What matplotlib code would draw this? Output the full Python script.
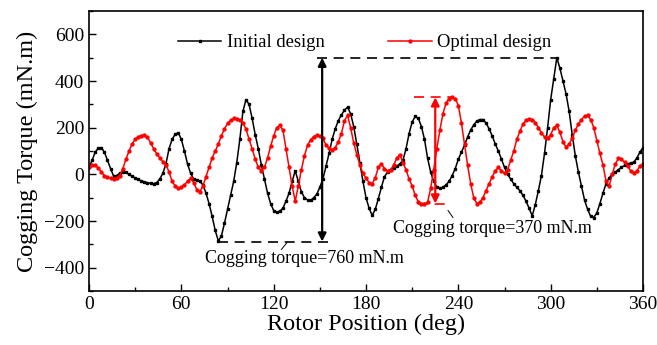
import numpy as np
import matplotlib
matplotlib.use("Agg")
import matplotlib.pyplot as plt

plt.rcParams['font.family'] = ['Liberation Serif', 'DejaVu Serif']

# Rotor position (deg), sampled every 2 degrees
position = np.arange(0, 362, 2)

initial_design = [
    30, 60, 95, 112, 115, 95, 60, 25, -8, -5,
    5, 10, 8, 0, -8, -15, -22, -28, -32, -36,
    -38, -40, -35, -20, 5, 45, 110, 150, 172, 178,
    150, 100, 45, 5, -20, -26, -30, -45, -80, -125,
    -180, -240, -285, -265, -210, -150, -90, -30, 50, 150,
    270, 320, 300, 240, 170, 110, 40, -20, -80, -125,
    -155, -163, -158, -145, -115, -80, -30, 15, -30, -75,
    -100, -110, -112, -100, -85, -55, -20, 35, 90, 150,
    195, 230, 255, 275, 288, 260, 205, 130, 50, -30,
    -100, -145, -176, -150, -105, -55, -10, 10, 20, 28,
    35, 45, 60, 110, 175, 225, 248, 240, 205, 150,
    70, 10, -30, -55, -60, -55, -45, -30, -5, 25,
    65, 95, 125, 160, 190, 212, 228, 235, 235, 220,
    195, 165, 130, 100, 65, 30, 0, -20, -40, -55,
    -70, -90, -115, -145, -178, -130, -70, -5, 90, 200,
    320, 410, 500, 455, 400, 345, 270, 170, 80, 10,
    -50, -110, -150, -180, -185, -165, -125, -80, -40, -15,
    0, 10, 20, 30, 38, 45, 48, 52, 70, 95,
    115,
]

optimal_design = [
    30, 38, 38, 28, 10, -5, -12, -16, -18, -15,
    -5, 25, 65, 100, 130, 150, 160, 166, 168, 160,
    135, 110, 88, 70, 55, 42, 10, -30, -50, -60,
    -55, -45, -30, -17, -35, -65, -75, -50, -10, 30,
    70, 100, 130, 165, 195, 218, 232, 240, 238, 232,
    220, 195, 150, 110, 65, 30, 15, 30, 70, 120,
    165, 200, 210, 190, 110, 30, -50, -115, -50, 20,
    80, 125, 148, 162, 168, 165, 155, 125, 112, 105,
    115, 140, 175, 230, 253, 200, 135, 85, 40, 5,
    -17, -35, -40, -15, 30, 45, 25, 15, 20, 40,
    70, 85, 50, 20, -20, -50, -90, -118, -125, -125,
    -120, -60, 20, 110, 190, 260, 305, 325, 330, 325,
    295, 220, 130, 40, -40, -100, -125, -120, -100, -70,
    -40, -10, 15, 30, 15, 5, 20, 60, 100, 150,
    185, 215, 232, 238, 235, 222, 200, 178, 160, 155,
    170, 200, 210, 180, 140, 116, 130, 155, 190, 215,
    235, 250, 253, 235, 200, 145, 90, 40, -30, -50,
    0, 45, 68, 65, 52, 35, 15, 5, 15, 35,
    45,
]

x_ticks = [0, 60, 120, 180, 240, 300, 360]
y_ticks = [-400, -200, 0, 200, 400, 600]

fig = plt.figure(figsize=(6.57, 3.45), dpi=100)
ax = fig.add_axes([0.1355, 0.1565, 0.8432, 0.8115])

ax.plot(position, initial_design, color='black', lw=1.1, marker='s', ms=1.9,
        label='Initial design')
ax.plot(position, optimal_design, color='red', lw=1.1, marker='o', ms=2.1,
        label='Optimal design')

# Peak-to-peak annotations: initial design
ax.plot([148, 304], [500, 500], color='black', lw=1.2, ls=(0, (6, 4)))
ax.plot([84, 157], [-288, -288], color='black', lw=1.2, ls=(0, (6, 4)))
ax.annotate('', xy=(151.5, 500), xytext=(151.5, -288),
            arrowprops=dict(arrowstyle='<|-|>', color='black', lw=1.6,
                            mutation_scale=12, shrinkA=0, shrinkB=0))
ax.plot([125, 128.5], [-322, -294], color='black', lw=0.7)
ax.text(75.4, -361, 'Cogging torque=760 mN.m', fontsize=13, va='center', ha='left')

# Peak-to-peak annotations: optimal design
ax.plot([211, 237], [330, 330], color='red', lw=1.2, ls=(0, (6, 4)))
ax.plot([214, 235], [-125, -125], color='red', lw=1.2, ls=(0, (6, 4)))
ax.annotate('', xy=(225, 330), xytext=(225, -125),
            arrowprops=dict(arrowstyle='<|-|>', color='red', lw=1.6,
                            mutation_scale=12, shrinkA=0, shrinkB=0))
ax.plot([233.3, 236.5], [-155, -185], color='black', lw=0.7)
ax.text(197.5, -232, 'Cogging torque=370 mN.m', fontsize=13, va='center', ha='left')

ax.set_xlim(0, 360)
ax.set_ylim(-500, 700)
ax.set_xticks(x_ticks)
ax.set_yticks(y_ticks)
ax.set_xticks(np.arange(30, 360, 60), minor=True)
ax.set_yticks(np.arange(-500, 701, 200), minor=True)
ax.tick_params(which='both', direction='in', labelsize=14, top=False, right=False)
ax.tick_params(which='major', length=5, width=1)
ax.tick_params(which='minor', length=3, width=1)
for s in ax.spines.values():
    s.set_linewidth(1.2)

ax.set_xlabel('Rotor Position (deg)', fontsize=17.5, labelpad=1)
ax.set_ylabel('Cogging Torque (mN.m)', fontsize=17.5, labelpad=4)

ax.legend(loc='center left', bbox_to_anchor=(0.16, 0.886), ncol=2, frameon=False,
          fontsize=13.4, handlelength=2.35, handletextpad=0.3, columnspacing=3.4,
          borderpad=0, borderaxespad=0)

fig.savefig('out.png', dpi=100)
